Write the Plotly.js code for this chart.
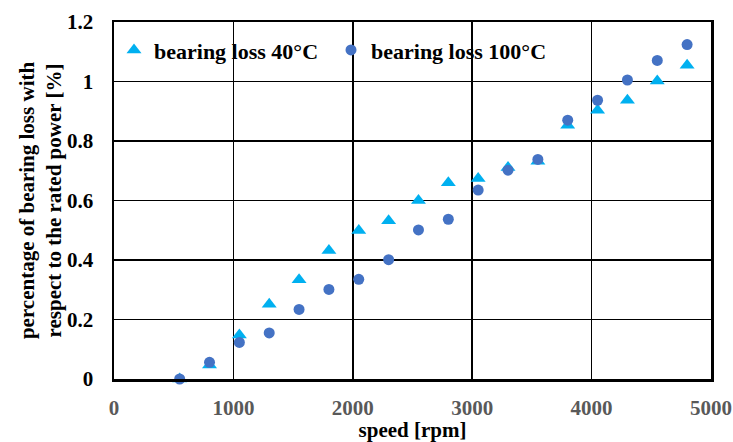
<!DOCTYPE html>
<html>
<head>
<meta charset="utf-8">
<script src="https://cdn.plot.ly/plotly-3.0.1.min.js"></script>
<style>html,body{margin:0;padding:0;background:#fff;}#chart{width:733px;height:442px;}</style>
</head>
<body>
<div id="chart"></div>
<script>
const speed = [550, 800, 1050, 1300, 1550, 1800, 2050, 2300, 2550, 2800, 3050, 3300, 3550, 3800, 4050, 4300, 4550, 4800];
const loss40 = [0.0, 0.047, 0.148, 0.251, 0.334, 0.432, 0.499, 0.532, 0.600, 0.660, 0.674, 0.711, 0.732, 0.853, 0.903, 0.937, 1.002, 1.055];
const loss100 = [0.0, 0.056, 0.123, 0.155, 0.234, 0.301, 0.335, 0.401, 0.501, 0.537, 0.635, 0.702, 0.738, 0.870, 0.937, 1.005, 1.071, 1.124];
const xTicks = [0, 1000, 2000, 3000, 4000, 5000];
const yTicks = [0, 0.2, 0.4, 0.6, 0.8, 1, 1.2];
const names = ['bearing loss 40°C', 'bearing loss 100°C'];

const font = 'Liberation Serif, Times New Roman, serif';
const traces = [
  {x: speed, y: loss40, name: names[0], type: 'scatter', mode: 'markers', cliponaxis: false,
   marker: {symbol: 'triangle-up', size: 13, color: '#00B0F0'}},
  {x: speed, y: loss100, name: names[1], type: 'scatter', mode: 'markers', cliponaxis: false,
   marker: {symbol: 'circle', size: 11, color: '#4472C4'}}
];
const layout = {
  width: 733, height: 442,
  margin: {l: 114, r: 22, t: 22, b: 63},
  paper_bgcolor: '#fff', plot_bgcolor: '#fff',
  font: {family: font, size: 21, color: '#000', weight: 'bold'},
  showlegend: true,
  legend: {orientation: 'h', x: 0, y: 0.98, xanchor: 'left', yanchor: 'top',
    bgcolor: 'rgba(0,0,0,0)', font: {family: font, size: 22, color: '#000', weight: 'bold'},
    itemwidth: 30, tracegroupgap: 0, entrywidth: 172, entrywidthmode: 'pixels'},
  xaxis: {range: [0, 5000], tickvals: xTicks, ticktext: xTicks.map(String), showgrid: true,
    gridcolor: '#000', gridwidth: 1.5, showline: true, linecolor: '#000', linewidth: 2.5, mirror: true,
    ticks: '', zeroline: false, ticklabelstandoff: 8,
    tickfont: {family: font, size: 21, color: '#595959', weight: 'bold'},
    title: {text: 'speed [rpm]', font: {family: font, size: 21, color: '#000', weight: 'bold'}, standoff: 2}},
  yaxis: {range: [0, 1.2], tickvals: yTicks, ticktext: yTicks.map(String), showgrid: true,
    gridcolor: '#000', gridwidth: 1.5, showline: true, linecolor: '#000', linewidth: 2.5, mirror: true,
    ticks: '', zeroline: false, ticklabelstandoff: 14,
    tickfont: {family: font, size: 21, color: '#000', weight: 'bold'},
    title: {text: 'percentage of bearing loss with<br>respect to the rated power [%]', font: {family: font, size: 21, color: '#000', weight: 'bold'}, standoff: 0}}
};
Plotly.newPlot('chart', traces, layout, {displayModeBar: false, staticPlot: true});
</script>
</body>
</html>
